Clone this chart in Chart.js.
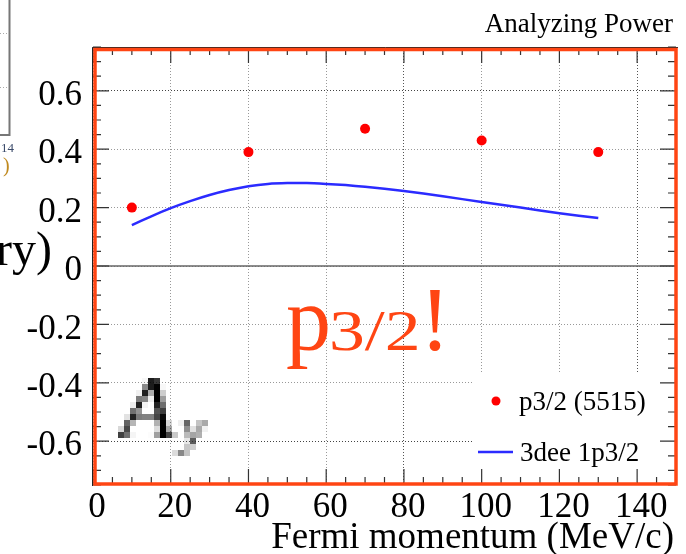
<!DOCTYPE html>
<html>
<head>
<meta charset="utf-8">
<script src="https://cdn.jsdelivr.net/npm/chart.js@4/dist/chart.umd.min.js"></script>
<style>
  html, body { margin: 0; padding: 0; background: #fff; }
  canvas { display: block; }
</style>
</head>
<body>
<canvas id="chart" width="686" height="554"></canvas>
<script>
/* ---------- data ---------- */

const xTicks = [0, 20, 40, 60, 80, 100, 120, 140];
const yTicks = [-0.6, -0.4, -0.2, 0, 0.2, 0.4, 0.6];

// measured points, p3/2 (5515)
const momentum = [10, 40, 70, 100, 130];
const asymmetry = [0.20, 0.39, 0.47, 0.43, 0.39];

// calculation, 3dee 1p3/2
const calcMomentum = [10, 15, 20, 25, 30, 35, 40, 45, 50, 55, 60, 65, 70, 80, 90, 100, 110, 120, 130];
const calcAy = [0.140, 0.170, 0.198, 0.222, 0.243, 0.260, 0.273, 0.281, 0.284, 0.284, 0.281, 0.277, 0.271, 0.257, 0.239, 0.219, 0.200, 0.181, 0.164];

const legendLabels = ['p3/2 (5515)', '3dee 1p3/2'];

const SERIF = '"Liberation Serif", "DejaVu Serif", serif';
const ORANGE = '#ff4513';

/* ---------- decorations ---------- */

const decor = {
  id: 'decor',
  beforeDatasetsDraw(chart) {
    const { ctx, chartArea: a, scales } = chart;
    const y0 = scales.y.getPixelForValue(0);
    ctx.save();
    ctx.strokeStyle = '#666';
    ctx.lineWidth = 1.5;
    ctx.beginPath(); ctx.moveTo(a.left, y0); ctx.lineTo(a.right, y0); ctx.stroke();
    ctx.restore();
  },
  afterDatasetsDraw(chart) {
    const { ctx } = chart;
    const ds = chart.data.datasets;
    ctx.save();
    // legend box
    ctx.fillStyle = '#fff';
    ctx.fillRect(472, 373, 202, 109);
    ctx.fillStyle = ds[0].backgroundColor;
    ctx.beginPath(); ctx.arc(496, 401, 4.5, 0, Math.PI * 2); ctx.fill();
    ctx.strokeStyle = ds[1].borderColor;
    ctx.lineWidth = ds[1].borderWidth;
    ctx.beginPath(); ctx.moveTo(478, 452); ctx.lineTo(513, 452); ctx.stroke();
    ctx.fillStyle = '#000';
    ctx.font = '27px ' + SERIF;
    ctx.textBaseline = 'alphabetic';
    ctx.fillText(legendLabels[0], 519, 410);
    ctx.fillText(legendLabels[1], 520, 461);
    ctx.restore();
  },
  afterDraw(chart) {
    const { ctx, chartArea: a, scales } = chart;
    const xs = scales.x, ys = scales.y;
    ctx.save();

    // minor / major ticks on all four sides
    ctx.strokeStyle = '#333';
    ctx.lineWidth = 1.2;
    ctx.beginPath();
    for (let v = -0.75; v <= 0.7501; v += 0.05) {
      const py = ys.getPixelForValue(v);
      const major = Math.abs(Math.round(v * 5) - v * 5) < 1e-6;
      const len = major ? 13 : 5;
      ctx.moveTo(a.left, py); ctx.lineTo(a.left + 3 + len, py);
      ctx.moveTo(a.right, py); ctx.lineTo(a.right - 3 - len, py);
    }
    for (let v = 0; v <= 150; v += 5) {
      const px = xs.getPixelForValue(v);
      const len = v % 20 === 0 ? 13 : 5;
      ctx.moveTo(px, a.bottom); ctx.lineTo(px, a.bottom - 3 - len);
      ctx.moveTo(px, a.top); ctx.lineTo(px, a.top + 3 + len);
    }
    ctx.stroke();

    // frame
    ctx.strokeStyle = '#222';
    ctx.lineWidth = 1;
    ctx.beginPath();
    ctx.moveTo(92.5, a.bottom + 1); ctx.lineTo(92.5, a.top + 0.5); ctx.lineTo(a.right + 2, a.top + 0.5);
    ctx.stroke();
    ctx.strokeStyle = ORANGE;
    ctx.lineWidth = 3.5;
    ctx.strokeRect(95, 49.5, a.right - 95, a.bottom - 1 - 49.5);

    // big p3/2!
    ctx.fillStyle = ORANGE;
    ctx.textBaseline = 'alphabetic';
    ctx.font = '90px ' + SERIF;
    ctx.fillText('p', 286, 350);
    ctx.save();
    ctx.translate(329, 350);
    ctx.scale(1.28, 1);
    ctx.font = '56px ' + SERIF;
    ctx.fillText('3/2', 0, 0);
    ctx.restore();
    ctx.font = '90px ' + SERIF;
    ctx.textAlign = 'center';
    ctx.fillText('!', 435, 350);
    ctx.textAlign = 'left';

    // pixelated A_y
    const off = document.createElement('canvas');
    off.width = 16; off.height = 14;
    const o = off.getContext('2d');
    o.fillStyle = '#000';
    o.font = 'italic 15px ' + SERIF;
    o.fillText('A', 0.3, 9.6);
    o.fillStyle = '#333';
    o.font = 'italic 9px ' + SERIF;
    o.fillText('y', 10.6, 10.9);
    ctx.imageSmoothingEnabled = false;
    ctx.drawImage(off, 118, 378, 96, 84);

    // titles
    ctx.fillStyle = '#000';
    ctx.font = '27px ' + SERIF;
    ctx.textAlign = 'right';
    ctx.fillText('Analyzing Power', 673, 32);
    ctx.font = '37px ' + SERIF;
    ctx.fillText('Fermi momentum (MeV/c)', 674, 548);
    ctx.font = '48px ' + SERIF;
    ctx.fillText('ry)', 52, 265);

    // remains of the neighbouring slide, top left
    ctx.strokeStyle = '#777';
    ctx.lineWidth = 2;
    ctx.beginPath(); ctx.moveTo(9.5, 0); ctx.lineTo(9.5, 135); ctx.lineTo(0, 135); ctx.stroke();
    ctx.strokeStyle = '#aaa';
    ctx.lineWidth = 1;
    ctx.setLineDash([1, 2]);
    ctx.beginPath(); ctx.moveTo(0, 33.5); ctx.lineTo(8, 33.5); ctx.moveTo(0, 87.5); ctx.lineTo(8, 87.5); ctx.stroke();
    ctx.setLineDash([]);
    ctx.textAlign = 'left';
    ctx.fillStyle = '#3a4a6a';
    ctx.font = '13px ' + SERIF;
    ctx.fillText('14', 1, 152);
    ctx.fillStyle = '#c08a20';
    ctx.font = '20px ' + SERIF;
    ctx.fillText(')', 3, 172);

    ctx.restore();
  }
};

/* ---------- chart ---------- */

new Chart(document.getElementById('chart'), {
  type: 'scatter',
  data: {
    datasets: [
      {
        label: legendLabels[0],
        data: momentum.map((x, i) => ({ x, y: asymmetry[i] })),
        backgroundColor: '#ff0000',
        borderColor: '#ff0000',
        pointRadius: 5,
        pointBorderWidth: 0,
        showLine: false
      },
      {
        label: legendLabels[1],
        data: calcMomentum.map((x, i) => ({ x, y: calcAy[i] })),
        borderColor: '#2b2bff',
        backgroundColor: '#2b2bff',
        borderWidth: 2.5,
        pointRadius: 0,
        showLine: true,
        tension: 0.2
      }
    ]
  },
  options: {
    responsive: false,
    animation: false,
    devicePixelRatio: 1,
    layout: { padding: { left: 0, right: 10, top: 47, bottom: 0 } },
    plugins: { legend: { display: false }, tooltip: { enabled: false } },
    scales: {
      x: {
        type: 'linear',
        min: 0,
        max: 150,
        afterBuildTicks: s => { s.ticks = xTicks.map(v => ({ value: v })); },
        afterFit: s => { s.height = 69; },
        border: { display: false, dash: [1, 2] },
        grid: {
          drawTicks: false,
          color: c => (c.tick && (c.tick.value === 80 || c.tick.value === 140)) ? '#555' : '#999',
          lineWidth: 1
        },
        ticks: {
          font: { family: SERIF, size: 35 },
          color: '#000',
          padding: 2,
          labelOffset: 4,
          maxRotation: 0,
          autoSkip: false
        }
      },
      y: {
        type: 'linear',
        min: -0.75,
        max: 0.75,
        afterBuildTicks: s => { s.ticks = yTicks.map(v => ({ value: v })); },
        afterFit: s => { s.width = 93; },
        border: { display: false, dash: [1, 2] },
        grid: {
          drawTicks: false,
          color: c => (c.tick && Math.abs(Math.abs(c.tick.value) - 0.6) < 1e-6) ? '#444' : '#999',
          lineWidth: 1
        },
        ticks: {
          font: { family: SERIF, size: 35 },
          color: '#000',
          padding: 11,
          labelOffset: 5,
          callback: v => (Math.abs(v) < 1e-9 ? '0' : v.toFixed(1))
        }
      }
    }
  },
  plugins: [decor]
});
</script>
</body>
</html>
